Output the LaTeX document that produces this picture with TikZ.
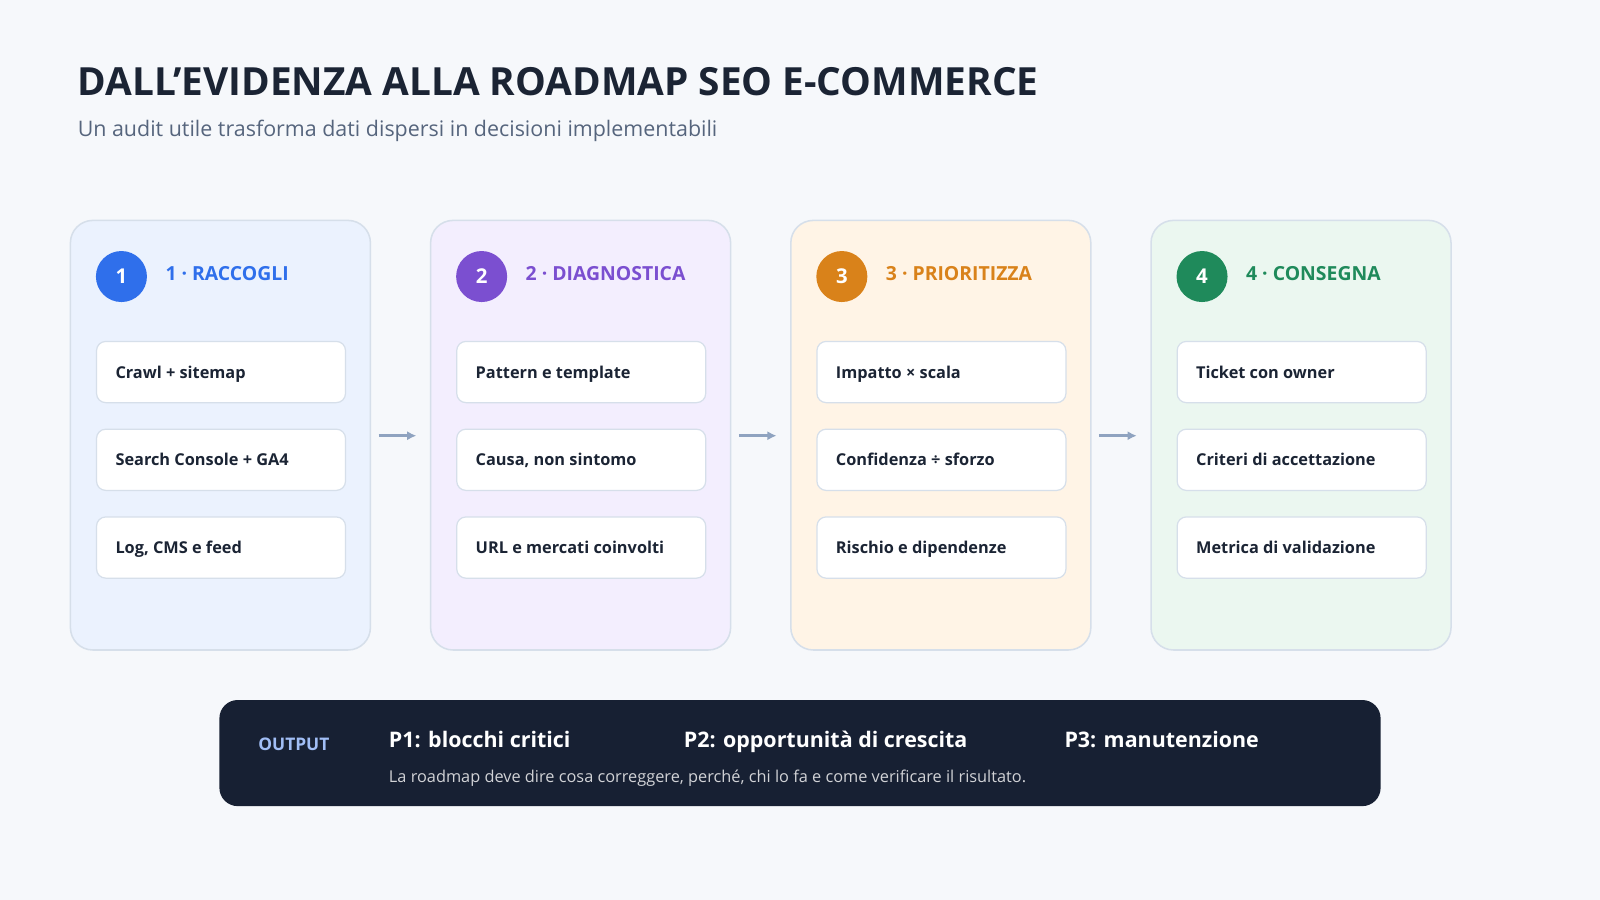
\documentclass[tikz,border=0pt]{standalone}
\usepackage{fontspec}
\setmainfont{Open Sans}
\usetikzlibrary{arrows.meta}
\begin{document}
\begin{tikzpicture}[x=1pt,y=-1pt,
  col/.style={draw=bord,line width=1.5pt,rounded corners=22pt},
  item/.style={draw=bord,line width=1.2pt,fill=white,rounded corners=9pt,minimum width=244pt,minimum height=60pt,anchor=north west},
  itxt/.style={anchor=base west,font=\fontsize{16}{18}\selectfont\bfseries,text=ink},
  num/.style={circle,minimum size=50pt,inner sep=0pt,text=white,font=\fontsize{20}{22}\selectfont\bfseries},
  head/.style={anchor=base west,font=\fontsize{19}{22}\selectfont\bfseries},
  arr/.style={draw=arrc,line width=3pt,-{Latex[length=9pt,width=9pt]}}]
\definecolor{bg}{HTML}{F6F8FB}\definecolor{bord}{HTML}{D6DFEA}\definecolor{ink}{HTML}{1B2434}
\definecolor{arrc}{HTML}{8FA3C0}\definecolor{subc}{HTML}{56657D}
\definecolor{cA}{HTML}{2F6FEB}\definecolor{fA}{HTML}{EBF2FE}
\definecolor{cB}{HTML}{7B4FD0}\definecolor{fB}{HTML}{F3EEFE}
\definecolor{cC}{HTML}{D9821A}\definecolor{fC}{HTML}{FFF4E6}
\definecolor{cD}{HTML}{1F8A5B}\definecolor{fD}{HTML}{EBF7F0}
\definecolor{dark}{HTML}{172033}
\useasboundingbox (0,0) rectangle (1568,882);
\fill[bg] (0,0) rectangle (1568,882);
\node[anchor=base west,font=\fontsize{38}{42}\selectfont\bfseries,text=ink,inner sep=0pt] (title) at (76,94) {DALL'EVIDENZA ALLA ROADMAP SEO E-COMMERCE};
\node[anchor=base west,font=\fontsize{21}{24}\selectfont,text=subc,inner sep=0pt] (sub) at (76,134) {Un audit utile trasforma dati dispersi in decisioni implementabili};
\foreach \i/\x/\c/\f/\h/\a/\b/\d in {
 1/69/cA/fA/RACCOGLI/Crawl + sitemap/Search Console + GA4/{Log, CMS e feed},
 2/422/cB/fB/DIAGNOSTICA/Pattern e template/{Causa, non sintomo}/URL e mercati coinvolti,
 3/775/cC/fC/PRIORITIZZA/Impatto × scala/Confidenza ÷ sforzo/Rischio e dipendenze,
 4/1128/cD/fD/CONSEGNA/Ticket con owner/Criteri di accettazione/Metrica di validazione}{
 \draw[col,fill=\f] (\x,216) rectangle ++(294,421);
 \node[num,fill=\c] (n\i) at (\x+50,271) {\i};
 \node[head,text=\c,inner sep=0pt] (h\i) at (\x+93,275) {\i\ · \h};
 \node[item] (a\i) at (\x+25,334) {}; \node[itxt,inner sep=0pt] at ([xshift=19pt,yshift=-6pt]a\i.west) {\a};
 \node[item] (b\i) at (\x+25,420) {}; \node[itxt,inner sep=0pt] at ([xshift=19pt,yshift=-6pt]b\i.west) {\b};
 \node[item] (d\i) at (\x+25,506) {}; \node[itxt,inner sep=0pt] at ([xshift=19pt,yshift=-6pt]d\i.west) {\d};
}
\foreach \x in {371,724,1077}{\coordinate (s\x) at (\x,427); \coordinate (e\x) at (\x+37,427); \draw[arr] (s\x)--(e\x);}
\fill[dark,rounded corners=18pt] (215,686) rectangle (1353,790);
\node[anchor=base west,inner sep=0pt,font=\fontsize{17}{20}\selectfont\bfseries,text=cA!45!white] (out) at (253,735) {OUTPUT};
\node[anchor=base west,inner sep=0pt,font=\fontsize{21}{24}\selectfont\bfseries,text=white] (p1) at (381,733) {P1: blocchi critici};
\node[anchor=base west,inner sep=0pt,font=\fontsize{21}{24}\selectfont\bfseries,text=white] (p2) at (670,733) {P2: opportunità di crescita};
\node[anchor=base west,inner sep=0pt,font=\fontsize{21}{24}\selectfont\bfseries,text=white] (p3) at (1043,733) {P3: manutenzione};
\node[anchor=base west,inner sep=0pt,font=\fontsize{16}{18}\selectfont,text=white!80!dark] (foot) at (381,767) {La roadmap deve dire cosa correggere, perché, chi lo fa e come verificare il risultato.};
\end{tikzpicture}
\end{document}
